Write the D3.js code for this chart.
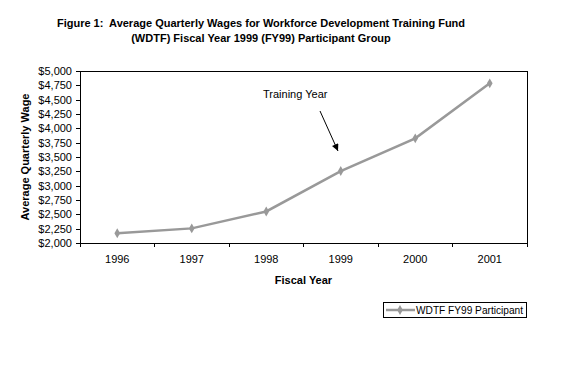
<!DOCTYPE html>
<html>
<head>
<meta charset="utf-8">
<script src="https://cdn.jsdelivr.net/npm/d3@7"></script>
<style>
  body { margin: 0; background: #fff; }
  svg { display: block; font-family: "Liberation Sans", Arial, sans-serif; }
</style>
</head>
<body>
<svg id="chart" width="563" height="386"></svg>
<script>
// data
const years = ["1996", "1997", "1998", "1999", "2000", "2001"];
const wages = [2170, 2255, 2550, 3255, 3825, 4785];
const yTicks = [2000, 2250, 2500, 2750, 3000, 3250, 3500, 3750, 4000, 4250, 4500, 4750, 5000];
const seriesName = "WDTF FY99 Participant";
const titleLines = [
    "Figure 1:  Average Quarterly Wages for Workforce Development Training Fund",
    "(WDTF) Fiscal Year 1999 (FY99) Participant Group"
];

const svg = d3.select('#chart');
const lineColor = '#999999';

const plotLeft = 80, plotRight = 527, plotTop = 71, plotBottom = 243;

const x = d3.scaleBand()
            .domain(years)
            .range([plotLeft, plotRight]);

const y = d3.scaleLinear()
            .domain([2000, 5000])
            .range([plotBottom, plotTop]);

// title
svg.append('g')
   .selectAll('text')
   .data(titleLines)
   .join('text')
   .attr('x', 261)
   .attr('y', (d, i) => 27 + i * 15)
   .attr('text-anchor', 'middle')
   .style('font-size', '11px')
   .style('font-weight', 'bold')
   .style('white-space', 'pre')
   .text(d => d);

// plot frame
svg.append('rect')
   .attr('x', plotLeft)
   .attr('y', plotTop)
   .attr('width', plotRight - plotLeft)
   .attr('height', plotBottom - plotTop)
   .attr('fill', 'none')
   .attr('stroke', '#000')
   .attr('shape-rendering', 'crispEdges');

// axes
const yAxis = svg.append('g')
   .attr('transform', `translate(${plotLeft},0)`)
   .call(d3.axisLeft(y).tickValues(yTicks).tickSize(4).tickPadding(4)
           .tickFormat(d => '$' + d3.format(',')(d)));

const xAxis = svg.append('g')
   .attr('transform', `translate(0,${plotBottom})`)
   .call(d3.axisBottom(x).tickSize(0).tickPadding(12));

// x ticks sit on band edges
xAxis.selectAll('.edge')
   .data(d3.range(years.length + 1))
   .join('line')
   .attr('class', 'edge')
   .attr('x1', i => plotLeft + i * x.bandwidth())
   .attr('x2', i => plotLeft + i * x.bandwidth())
   .attr('y1', 0)
   .attr('y2', 4)
   .attr('stroke', '#000')
   .attr('shape-rendering', 'crispEdges');

[yAxis, xAxis].forEach(a => {
    a.select('.domain').remove();
    a.selectAll('text').style('font-size', '11px').attr('fill', '#000').style('font-family', 'inherit');
    a.selectAll('.tick line').attr('shape-rendering', 'crispEdges');
});

// axis titles
svg.append('text')
   .attr('x', (plotLeft + plotRight) / 2)
   .attr('y', 284)
   .attr('text-anchor', 'middle')
   .style('font-size', '11px')
   .style('font-weight', 'bold')
   .text('Fiscal Year');

svg.append('text')
   .attr('transform', `translate(29,${(plotTop + plotBottom) / 2}) rotate(-90)`)
   .attr('text-anchor', 'middle')
   .style('font-size', '11px')
   .style('font-weight', 'bold')
   .text('Average Quarterly Wage');

// line and markers
const pts = years.map((d, i) => ({ year: d, value: wages[i] }));

const line = d3.line()
               .x(d => x(d.year) + x.bandwidth() / 2)
               .y(d => y(d.value));

svg.append('path')
   .datum(pts)
   .attr('d', line)
   .attr('fill', 'none')
   .attr('stroke', lineColor)
   .attr('stroke-width', 2.5);

const diamond = d3.symbol().type(d3.symbolDiamond).size(28);

svg.selectAll('.marker')
   .data(pts)
   .join('path')
   .attr('class', 'marker')
   .attr('transform', d => `translate(${x(d.year) + x.bandwidth() / 2},${y(d.value)})`)
   .attr('d', diamond)
   .attr('fill', lineColor);

// annotation
svg.append('defs')
   .append('marker')
   .attr('id', 'arrow')
   .attr('viewBox', '0 0 10 10')
   .attr('refX', 10)
   .attr('refY', 5)
   .attr('markerWidth', 9)
   .attr('markerHeight', 7)
   .attr('markerUnits', 'userSpaceOnUse')
   .attr('orient', 'auto')
   .append('path')
   .attr('d', 'M0,0 L10,5 L0,10 Z')
   .attr('fill', '#000');

svg.append('text')
   .attr('x', 263)
   .attr('y', 98)
   .style('font-size', '11px')
   .text('Training Year');

svg.append('line')
   .attr('x1', 320)
   .attr('y1', 111)
   .attr('x2', 338)
   .attr('y2', 151)
   .attr('stroke', '#000')
   .attr('stroke-width', 1)
   .attr('marker-end', 'url(#arrow)');

// legend
const legend = svg.append('g').attr('transform', 'translate(383,302)');

legend.append('rect')
   .attr('x', 0.5)
   .attr('y', 0.5)
   .attr('width', 143)
   .attr('height', 15)
   .attr('fill', '#fff')
   .attr('stroke', '#000');

legend.append('line')
   .attr('x1', 3)
   .attr('x2', 32)
   .attr('y1', 8)
   .attr('y2', 8)
   .attr('stroke', lineColor)
   .attr('stroke-width', 2.5);

legend.append('path')
   .attr('transform', 'translate(17,8)')
   .attr('d', diamond)
   .attr('fill', lineColor);

legend.append('text')
   .attr('x', 33)
   .attr('y', 12)
   .attr('textLength', 107)
   .attr('lengthAdjust', 'spacingAndGlyphs')
   .style('font-size', '11px')
   .text(seriesName);
</script>
</body>
</html>
